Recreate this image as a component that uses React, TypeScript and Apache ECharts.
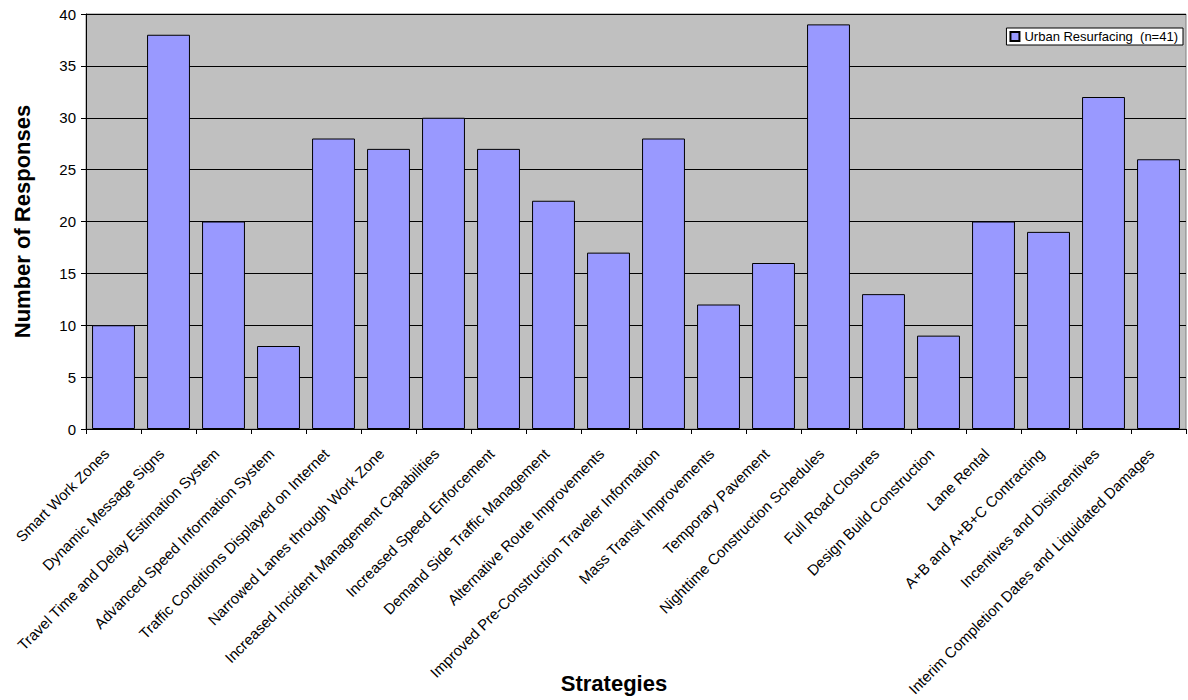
import React, { useEffect, useRef } from "react";
import * as echarts from "echarts";

const categories = [
  "Smart Work Zones",
  "Dynamic Message Signs",
  "Travel Time and Delay Estimation System",
  "Advanced Speed Information System",
  "Traffic Conditions Displayed on Internet",
  "Narrowed Lanes through Work Zone",
  "Increased Incident Management Capabilities",
  "Increased Speed Enforcement",
  "Demand Side Traffic Management",
  "Alternative Route Improvements",
  "Improved Pre-Construction Traveler Information",
  "Mass Transit Improvements",
  "Temporary Pavement",
  "Nighttime Construction Schedules",
  "Full Road Closures",
  "Design Build Construction",
  "Lane Rental",
  "A+B and A+B+C Contracting",
  "Incentives and Disincentives",
  "Interim Completion Dates and Liquidated Damages",
];
const urbanResurfacing = [10, 38, 20, 8, 28, 27, 30, 27, 22, 17, 28, 12, 16, 39, 13, 9, 20, 19, 32, 26];
const seriesName = "Urban Resurfacing  (n=41)";

export default function App() {
  const ref = useRef<HTMLDivElement>(null);
  useEffect(() => {
    if (!ref.current) return;
    const chart = echarts.init(ref.current, undefined, { renderer: "svg" });
    chart.setOption({
      animation: false,
      textStyle: { fontFamily: "Liberation Sans, Arial, sans-serif" },
      grid: {
        left: 86,
        top: 14,
        width: 1100,
        height: 415,
        show: true,
        backgroundColor: "#C0C0C0",
        borderColor: "#808080",
        borderWidth: 1,
      },
      legend: {
        show: true,
        right: 5,
        top: 28,
        orient: "vertical",
        backgroundColor: "#FFFFFF",
        borderColor: "#000000",
        borderWidth: 1,
        padding: [2, 5, 2, 3],
        itemWidth: 9,
        itemHeight: 9,
        itemGap: 4,
        textStyle: { fontSize: 13, color: "#000" },
        data: [{ name: seriesName, icon: "rect" }],
      },
      xAxis: {
        type: "category",
        data: categories,
        name: "Strategies",
        nameLocation: "middle",
        nameGap: 243,
        nameMoveOverlap: false,
        nameTextStyle: { fontSize: 22, fontWeight: "bold", color: "#000", padding: [0, 44, 0, 0] },
        axisLine: { lineStyle: { color: "#000" } },
        axisTick: { show: true, alignWithLabel: false, lineStyle: { color: "#000" }, length: 5 },
        axisLabel: { rotate: 45, interval: 0, fontSize: 15, color: "#000", margin: 15, padding: [0, 10, 0, 0] },
      },
      yAxis: {
        type: "value",
        min: 0,
        max: 40,
        interval: 5,
        name: "Number of Responses",
        nameLocation: "middle",
        nameGap: 53,
        nameMoveOverlap: false,
        nameTextStyle: { fontSize: 22, fontWeight: "bold", color: "#000" },
        axisLine: { show: true, lineStyle: { color: "#000" } },
        axisTick: { show: true, lineStyle: { color: "#000" }, length: 5 },
        axisLabel: { fontSize: 15, color: "#000", margin: 10 },
        splitLine: { show: true, lineStyle: { color: "#000", width: 1 } },
      },
      series: [
        {
          name: seriesName,
          type: "bar",
          data: urbanResurfacing,
          barCategoryGap: "22%",
          itemStyle: { color: "#9999FF", borderColor: "#000", borderWidth: 1 },
        },
      ],
    });
    return () => chart.dispose();
  }, []);
  return (
    <div
      ref={ref}
      style={{ position: "fixed", left: 0, top: 0, width: 1188, height: 700, background: "#fff" }}
    />
  );
}
